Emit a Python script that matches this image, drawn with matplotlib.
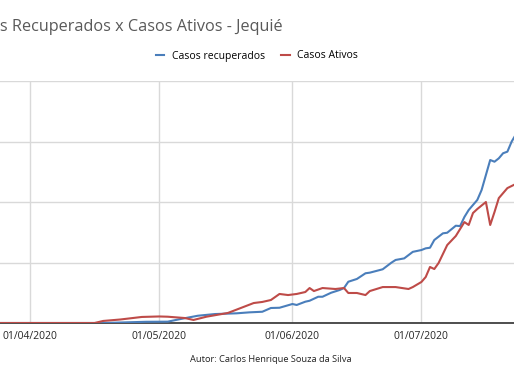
import matplotlib
matplotlib.use("Agg")
import matplotlib.pyplot as plt
import matplotlib.dates as mdates
import numpy as np

# data (irregular sampling)
rec_dates = ["2020-03-25", "2020-04-18", "2020-04-28", "2020-05-03", "2020-05-06", "2020-05-10",
             "2020-05-14", "2020-05-19", "2020-05-22", "2020-05-25", "2020-05-27", "2020-05-29",
             "2020-06-01", "2020-06-02", "2020-06-04", "2020-06-05", "2020-06-07", "2020-06-08",
             "2020-06-10", "2020-06-12", "2020-06-13", "2020-06-14", "2020-06-16", "2020-06-18",
             "2020-06-19", "2020-06-22", "2020-06-24", "2020-06-25", "2020-06-27", "2020-06-29",
             "2020-07-01", "2020-07-02", "2020-07-03", "2020-07-04", "2020-07-06", "2020-07-07",
             "2020-07-09", "2020-07-10", "2020-07-11", "2020-07-12", "2020-07-14", "2020-07-15",
             "2020-07-16", "2020-07-17", "2020-07-18", "2020-07-19", "2020-07-20", "2020-07-21",
             "2020-07-22", "2020-07-23"]
rec_vals = [0, 0, 10, 11, 33, 60,
            74, 80, 88, 93, 124, 126,
            157, 149, 176, 184, 217, 217,
            250, 273, 289, 341, 364, 411,
            416, 444, 498, 521, 534, 588,
            603, 617, 622, 686, 741, 746,
            804, 801, 876, 934, 1017, 1099,
            1223, 1347, 1333, 1361, 1403, 1416,
            1500, 1560]

ativ_dates = ["2020-03-25", "2020-04-16", "2020-04-18", "2020-04-22", "2020-04-27", "2020-05-01",
              "2020-05-03", "2020-05-07", "2020-05-09", "2020-05-12", "2020-05-17", "2020-05-20",
              "2020-05-23", "2020-05-25", "2020-05-27", "2020-05-29", "2020-05-31", "2020-06-02",
              "2020-06-04", "2020-06-05", "2020-06-06", "2020-06-08", "2020-06-11", "2020-06-13",
              "2020-06-14", "2020-06-16", "2020-06-18", "2020-06-19", "2020-06-22", "2020-06-25",
              "2020-06-28", "2020-06-29", "2020-07-01", "2020-07-02", "2020-07-03", "2020-07-04",
              "2020-07-05", "2020-07-07", "2020-07-09", "2020-07-11", "2020-07-12", "2020-07-13",
              "2020-07-14", "2020-07-16", "2020-07-17", "2020-07-18", "2020-07-19", "2020-07-21",
              "2020-07-23"]
ativ_vals = [0, 0, 17, 29, 50, 54,
             52, 41, 25, 52, 83, 124,
             165, 174, 190, 240, 231, 240,
             256, 289, 264, 289, 281, 289,
             248, 248, 231, 264, 297, 297,
             281, 297, 339, 380, 463, 446,
             496, 644, 719, 834, 810, 909,
             942, 1000, 810, 917, 1032, 1115,
             1150]

month_ticks = ["2020-04-01", "2020-05-01", "2020-06-01", "2020-07-01"]

blue = "#4a7ebb"
red = "#be4b48"

fig = plt.figure(figsize=(5.14, 3.86), dpi=100)
ax = fig.add_axes([0, 63/386, 1, (323-81)/386])

rd = mdates.datestr2num(rec_dates)
ad = mdates.datestr2num(ativ_dates)
ax.plot(rd, rec_vals, color=blue, lw=1.5, label="Casos recuperados", zorder=3)
ax.plot(ad, ativ_vals, color=red, lw=1.5, label="Casos Ativos", zorder=3)

x0 = mdates.datestr2num("2020-03-25")
ax.set_xlim(x0, x0 + 514/4.3)
ax.set_ylim(0, 2000)

ticks = mdates.datestr2num(month_ticks)
ax.set_xticks(ticks)
ax.xaxis.set_major_formatter(mdates.DateFormatter("%d/%m/%Y"))
ax.set_yticks([0, 500, 1000, 1500, 2000])
ax.set_yticklabels([])
ax.grid(True, color="#d9d9d9", lw=1)
ax.set_axisbelow(True)
for s in ["top", "left", "right"]:
    ax.spines[s].set_visible(False)
ax.spines["bottom"].set_color("#404040")
ax.spines["bottom"].set_linewidth(1.3)
ax.tick_params(axis="both", length=0)
ax.tick_params(axis="x", pad=6, labelsize=7.5, labelcolor="#262626")
for lab in ax.get_xticklabels():
    lab.set_family("Open Sans")

# the title is cut at the left edge, as in the source screenshot
fig.text(283/514, 1 - 27/386, "Casos Recuperados x Casos Ativos - Jequié", ha="right", va="center",
         fontsize=11.7, color="#595959", family="Open Sans")

fig.legend(loc="center", bbox_to_anchor=(0.5, 1 - 56/386), ncol=2, frameon=False,
           handlelength=0.8, handletextpad=0.7, columnspacing=1.6,
           prop={"family": "Open Sans", "size": 7.5})

fig.text(271/514, 1 - 360/386, "Autor: Carlos Henrique Souza da Silva", ha="center", va="center",
         fontsize=6.7, color="#222222", family="Open Sans")

fig.savefig("out.png", dpi=100)
